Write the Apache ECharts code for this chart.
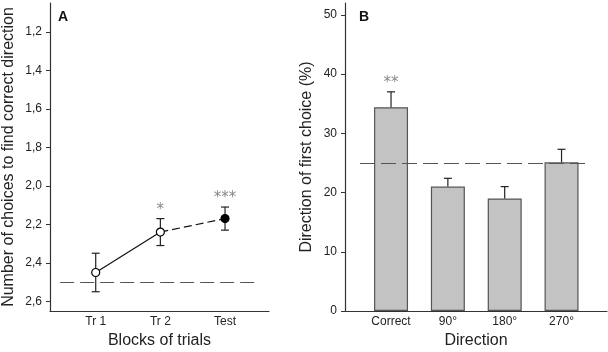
<!DOCTYPE html>
<html>
<head>
<meta charset="utf-8">
<script src="https://cdn.jsdelivr.net/npm/echarts@6/dist/echarts.min.js"></script>
<style>
  html, body { margin: 0; padding: 0; background: #fff; }
  #chart { width: 608px; height: 352px; }
</style>
</head>
<body>
<div id="chart"></div>
<script>
// panel A: choices needed per block of trials
const categoriesA = ["Tr 1", "Tr 2", "Test"];
const meansA = [2.45, 2.24, 2.17];
const errLowA = [2.35, 2.17, 2.11];
const errHighA = [2.55, 2.31, 2.23];
const starsA = ["", "*", "***"];
const chanceA = 2.5;
const yTicksA = [1.2, 1.4, 1.6, 1.8, 2.0, 2.2, 2.4, 2.6];

// panel B: direction of first choice
const categoriesB = ["Correct", "90°", "180°", "270°"];
const valuesB = [34.4, 21.0, 19.0, 25.1];
const errTopB = [37.0, 22.4, 21.0, 27.3];
const starsB = ["**", "", "", ""];
const chanceB = 25;
const yTicksB = [0, 10, 20, 30, 40, 50];

const FONT = "Liberation Sans";
const INK = "#222";

function errorBarRenderer(bothCaps) {
  return function (params, api) {
    const x = api.value(0);
    const p1 = api.coord([x, api.value(1)]);
    const p2 = api.coord([x, api.value(2)]);
    const hw = 4;
    const style = { stroke: INK, lineWidth: 1.2 };
    const children = [
      { type: "line", shape: { x1: p1[0], y1: p1[1], x2: p2[0], y2: p2[1] }, style },
      { type: "line", shape: { x1: p2[0] - hw, y1: p2[1], x2: p2[0] + hw, y2: p2[1] }, style },
    ];
    if (bothCaps) {
      children.push({ type: "line", shape: { x1: p1[0] - hw, y1: p1[1], x2: p1[0] + hw, y2: p1[1] }, style });
    }
    return { type: "group", children };
  };
}

function starRenderer(params, api) {
  const p = api.coord([api.value(0), api.value(1)]);
  return {
    type: "text",
    style: {
      text: api.value(2),
      x: p[0],
      y: p[1] - 1,
      align: "center",
      verticalAlign: "bottom",
      font: "15px 'DejaVu Sans'",
      fill: "#888",
    },
  };
}

const axisLineStyle = { onZero: false, lineStyle: { color: "#333", width: 1.2 } };

const chart = echarts.init(document.getElementById("chart"), null, { renderer: "canvas" });
chart.setOption({
  animation: false,
  textStyle: { fontFamily: FONT },
  title: [
    { text: "A", left: 58, top: 10, padding: 0, textStyle: { fontFamily: FONT, fontSize: 14, fontWeight: "bold", color: "#111" } },
    { text: "B", left: 359, top: 10, padding: 0, textStyle: { fontFamily: FONT, fontSize: 14, fontWeight: "bold", color: "#111" } },
  ],
  grid: [
    { left: 50, top: 3, width: 219, height: 308, outerBoundsMode: "none" },
    { left: 345, top: 3, width: 262, height: 308, outerBoundsMode: "none" },
  ],
  xAxis: [
    {
      gridIndex: 0, type: "value", min: -0.707, max: 2.68,
      name: "Blocks of trials", nameLocation: "middle", nameGap: 21,
      nameTextStyle: { fontFamily: FONT, fontSize: 16, color: INK },
      axisLine: axisLineStyle, axisTick: { show: false }, splitLine: { show: false },
      axisLabel: {
        customValues: categoriesA.map((c, i) => i),
        formatter: v => categoriesA[Math.round(v)],
        margin: 5, fontFamily: FONT, fontSize: 12, color: INK,
      },
    },
    {
      gridIndex: 1, type: "value", min: -0.81, max: 3.80,
      name: "Direction", nameLocation: "middle", nameGap: 22,
      nameTextStyle: { fontFamily: FONT, fontSize: 16, color: INK },
      axisLine: axisLineStyle, axisTick: { show: false }, splitLine: { show: false },
      axisLabel: {
        customValues: categoriesB.map((c, i) => i),
        formatter: v => categoriesB[Math.round(v)],
        margin: 5, fontFamily: FONT, fontSize: 12, color: INK,
      },
    },
  ],
  yAxis: [
    {
      gridIndex: 0, type: "value", inverse: true, min: 1.05, max: 2.65,
      name: "Number of choices to find correct direction", nameLocation: "middle", nameGap: 33,
      nameTextStyle: { fontFamily: FONT, fontSize: 16, color: INK },
      axisLine: { show: true, ...axisLineStyle },
      axisTick: { show: true, customValues: yTicksA, length: 4, lineStyle: { color: "#333" } },
      splitLine: { show: false },
      axisLabel: {
        customValues: yTicksA,
        formatter: v => v.toFixed(1).replace(".", ","),
        margin: 8, fontFamily: FONT, fontSize: 12, color: INK,
      },
    },
    {
      gridIndex: 1, type: "value", min: 0, max: 52,
      name: "Direction of first choice (%)", nameLocation: "middle", nameGap: 30,
      nameTextStyle: { fontFamily: FONT, fontSize: 16, color: INK },
      axisLine: { show: true, ...axisLineStyle },
      axisTick: { show: true, customValues: yTicksB, length: 4, lineStyle: { color: "#333" } },
      splitLine: { show: false },
      axisLabel: {
        customValues: yTicksB,
        margin: 8, fontFamily: FONT, fontSize: 12, color: INK,
      },
    },
  ],
  series: [
    {
      type: "custom", xAxisIndex: 0, yAxisIndex: 0, z: 2,
      renderItem: errorBarRenderer(true),
      encode: { x: 0, y: [1, 2] },
      data: categoriesA.map((c, i) => [i, errHighA[i], errLowA[i]]),
    },
    {
      type: "line", xAxisIndex: 0, yAxisIndex: 0, z: 3,
      symbol: "none",
      lineStyle: { color: "#111", width: 1.2 },
      data: [[0, meansA[0]], [1, meansA[1]]],
      markLine: {
        symbol: "none", silent: true, label: { show: false },
        lineStyle: { type: [14, 6], color: "#555", width: 1 },
        data: [[{ coord: [-0.55, chanceA] }, { coord: [2.54, chanceA] }]],
      },
    },
    {
      type: "line", xAxisIndex: 0, yAxisIndex: 0, z: 3,
      symbol: "none",
      lineStyle: { color: "#111", width: 1.2, type: [8, 4] },
      data: [[1, meansA[1]], [2, meansA[2]]],
    },
    {
      type: "scatter", xAxisIndex: 0, yAxisIndex: 0, z: 5,
      symbol: "circle", symbolSize: 8,
      itemStyle: { borderColor: "#000", borderWidth: 1.2, opacity: 1 },
      data: meansA.map((m, i) => ({
        value: [i, m],
        itemStyle: { color: categoriesA[i] === "Test" ? "#000" : "#fff" },
      })),
    },
    {
      type: "custom", xAxisIndex: 0, yAxisIndex: 0, z: 6,
      renderItem: starRenderer,
      encode: { x: 0, y: 1 },
      data: categoriesA.map((c, i) => [i, errLowA[i], starsA[i]]),
    },
    {
      type: "bar", xAxisIndex: 1, yAxisIndex: 1, z: 2,
      barWidth: 34,
      itemStyle: { color: "#c3c3c3", borderColor: "#555", borderWidth: 1.2 },
      data: valuesB.map((v, i) => [i, v]),
      markLine: {
        symbol: "none", silent: true, label: { show: false }, z: 4,
        lineStyle: { type: [15, 6], color: "#555", width: 1 },
        data: [[{ coord: [-0.546, chanceB] }, { coord: [3.486, chanceB] }]],
      },
    },
    {
      type: "custom", xAxisIndex: 1, yAxisIndex: 1, z: 3,
      renderItem: errorBarRenderer(false),
      encode: { x: 0, y: [1, 2] },
      data: valuesB.map((v, i) => [i, v, errTopB[i]]),
    },
    {
      type: "custom", xAxisIndex: 1, yAxisIndex: 1, z: 6,
      renderItem: starRenderer,
      encode: { x: 0, y: 1 },
      data: categoriesB.map((c, i) => [i, errTopB[i], starsB[i]]),
    },
  ],
});
</script>
</body>
</html>
